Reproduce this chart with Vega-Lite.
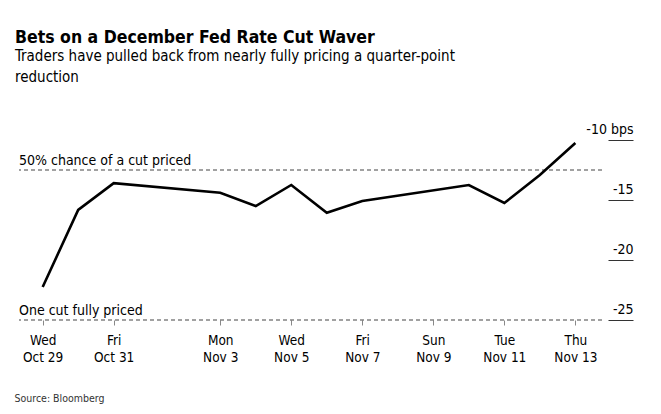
{
  "$schema": "https://vega.github.io/schema/vega-lite/v6.json",
  "width": 583,
  "height": 180,
  "autosize": {"type": "none"},
  "padding": {"left": 19, "top": 140, "right": 59, "bottom": 94},
  "background": "white",
  "config": {"view": {"stroke": null}, "font": "DejaVu Sans Condensed, Liberation Sans"},
  "title": {
    "text": "Bets on a December Fed Rate Cut Waver",
    "subtitle": ["Traders have pulled back from nearly fully pricing a quarter-point", "reduction"],
    "anchor": "start",
    "frame": "group",
    "dx": -4,
    "offset": 37,
    "font": "DejaVu Sans Condensed, Liberation Sans",
    "fontSize": 17.5,
    "fontWeight": "bold",
    "color": "#000000",
    "subtitleFont": "DejaVu Sans Condensed, Liberation Sans",
    "subtitleFontSize": 15,
    "subtitleColor": "#000000",
    "subtitleLineHeight": 21,
    "subtitlePadding": 3
  },
  "datasets": {
    "series": [
      {"date": "2025-10-29", "value": -22.25},
      {"date": "2025-10-30", "value": -15.83},
      {"date": "2025-10-31", "value": -13.6},
      {"date": "2025-11-03", "value": -14.39},
      {"date": "2025-11-04", "value": -15.5},
      {"date": "2025-11-05", "value": -13.75},
      {"date": "2025-11-06", "value": -16.06},
      {"date": "2025-11-07", "value": -15.08},
      {"date": "2025-11-10", "value": -13.75},
      {"date": "2025-11-11", "value": -15.25},
      {"date": "2025-11-12", "value": -12.92},
      {"date": "2025-11-13", "value": -10.25}
    ],
    "refs": [
      {"date": "2025-10-28T08:00:00Z", "value": -12.5, "label": "50% chance of a cut priced"},
      {"date": "2025-10-28T08:00:00Z", "value": -25, "label": "One cut fully priced"}
    ]
  },
  "layer": [
    {
      "data": {"name": "refs"},
      "mark": {"type": "rule", "color": "#444444", "strokeDash": [4, 3], "strokeWidth": 1.2},
      "encoding": {
        "y": {"field": "value", "type": "quantitative"}
      }
    },
    {
      "data": {"name": "series"},
      "mark": {"type": "line", "color": "#000000", "strokeWidth": 2.6, "strokeJoin": "miter"},
      "encoding": {
        "x": {
          "field": "date",
          "type": "temporal",
          "scale": {
            "type": "utc",
            "domain": [
              {"year": 2025, "month": "oct", "date": 28, "hours": 8, "utc": true},
              {"year": 2025, "month": "nov", "date": 13, "hours": 18, "utc": true}
            ]
          },
          "axis": {
            "title": "Source: Bloomberg",
            "titleAnchor": "start",
            "titleAlign": "left",
            "titleBaseline": "alphabetic",
            "titleX": -5,
            "titleY": 81,
            "titleFontSize": 10.5,
            "titleFontWeight": "normal",
            "titleColor": "#333333",
            "domain": false,
            "grid": false,
            "tickSize": 5,
            "tickColor": "#888888",
            "labelFlush": false,
            "values": [
              {"year": 2025, "month": "oct", "date": 29, "utc": true},
              {"year": 2025, "month": "oct", "date": 31, "utc": true},
              {"year": 2025, "month": "nov", "date": 3, "utc": true},
              {"year": 2025, "month": "nov", "date": 5, "utc": true},
              {"year": 2025, "month": "nov", "date": 7, "utc": true},
              {"year": 2025, "month": "nov", "date": 9, "utc": true},
              {"year": 2025, "month": "nov", "date": 11, "utc": true},
              {"year": 2025, "month": "nov", "date": 13, "utc": true}
            ],
            "labelExpr": "[utcFormat(datum.value, '%a'), utcFormat(datum.value, '%b %-d')]",
            "labelFontSize": 13.5,
            "labelColor": "#000000",
            "labelPadding": 8,
            "labelLineHeight": 17
          }
        },
        "y": {
          "field": "value",
          "type": "quantitative",
          "scale": {"domain": [-25, -10], "nice": false, "zero": false},
          "axis": {
            "orient": "right",
            "title": null,
            "values": [-25, -20, -15, -10],
            "domain": false,
            "grid": false,
            "offset": 6,
            "tickSize": 25,
            "tickColor": "#333333",
            "tickWidth": 1,
            "labelAlign": "right",
            "labelBaseline": "alphabetic",
            "labelOffset": -7,
            "labelPadding": 0,
            "labelFontSize": 14,
            "labelColor": "#000000",
            "labelExpr": "datum.value == -10 ? '-10 bps' : '' + datum.value"
          }
        }
      }
    },
    {
      "data": {"name": "refs"},
      "mark": {"type": "text", "align": "left", "baseline": "alphabetic", "dy": -5, "fontSize": 14, "color": "#000000"},
      "encoding": {
        "x": {"field": "date", "type": "temporal"},
        "y": {"field": "value", "type": "quantitative"},
        "text": {"field": "label"}
      }
    }
  ]
}
